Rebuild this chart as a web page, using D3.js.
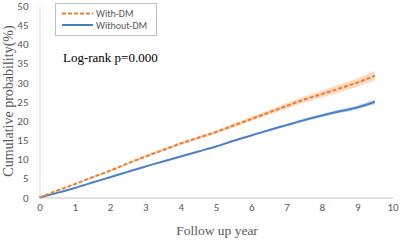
<!DOCTYPE html>
<html><head><meta charset="utf-8">
<script src="https://cdn.jsdelivr.net/npm/d3@7"></script>
<style>body{margin:0;background:#fff}svg{display:block}</style>
</head><body>
<svg id="c" width="400" height="240"></svg>
<script>
const years = [0,0.5,1,1.5,2,2.5,3,3.5,4,4.5,5,5.5,6,6.5,7,7.5,8,8.5,9,9.5];
const withDM = [0,1.8,3.5,5.3,7.0,8.9,10.7,12.4,14.1,15.6,17.1,18.8,20.5,22.2,23.9,25.6,27.0,28.5,30.0,31.8];
const withDMLo = [0,1.7,3.4,5.1,6.8,8.7,10.4,12.1,13.8,15.2,16.7,18.3,19.9,21.6,23.2,24.8,26.1,27.5,28.9,30.6];
const withDMHi = [0,1.9,3.6,5.5,7.2,9.1,11.0,12.7,14.4,16.0,17.5,19.3,21.1,22.8,24.6,26.4,27.9,29.5,31.1,33.0];
const withoutDM = [0,1.2,2.5,3.9,5.3,6.7,8.1,9.4,10.7,12.0,13.3,14.8,16.2,17.6,18.9,20.2,21.4,22.5,23.5,25.0];
const withoutDMLo = [0,1.15,2.45,3.85,5.2,6.6,8.0,9.3,10.6,11.9,13.1,14.6,16.0,17.3,18.6,19.8,21.0,22.0,23.0,24.3];
const withoutDMHi = [0,1.25,2.55,3.95,5.4,6.8,8.2,9.5,10.8,12.1,13.5,15.0,16.4,17.9,19.2,20.6,21.8,23.0,24.0,25.7];
const xTicks = [0,1,2,3,4,5,6,7,8,9,10];
const yTicks = [0,5,10,15,20,25,30,35,40,45,50];
const seriesNames = ["With-DM","Without-DM"];

const svg = d3.select("#c");
const x = d3.scaleLinear().domain([0,10]).range([39.5,392.5]);
const y = d3.scaleLinear().domain([0,50]).range([197.5,6]);

const gray = "#595959";
const sans = "Carlito, 'Liberation Sans', sans-serif";
// axes
const xa = svg.append("g").attr("transform","translate(0,197.5)")
  .call(d3.axisBottom(x).tickValues(xTicks).tickSize(0).tickPadding(6).tickFormat(d3.format("d")));
xa.select(".domain").attr("stroke","#d9d9d9").attr("stroke-width",1.5);
xa.selectAll("text").attr("fill",gray).style("font-family",sans).style("font-size","11px");
const ya = svg.append("g").attr("transform","translate(39.5,0)")
  .call(d3.axisLeft(y).tickValues(yTicks).tickSize(0).tickPadding(11).tickFormat(d3.format("d")));
ya.select(".domain").attr("stroke","#d9d9d9").attr("stroke-width",1);
ya.selectAll("text").attr("fill",gray).style("font-family",sans).style("font-size","11px");

// bands
const area = (lo,hi) => d3.area().x((d,i)=>x(years[i])).y0((d,i)=>y(lo[i])).y1((d,i)=>y(hi[i])).curve(d3.curveMonotoneX)(years);
svg.append("path").attr("d",area(withDMLo,withDMHi)).attr("fill","#f9cfae").attr("opacity",0.8);
svg.append("path").attr("d",area(withoutDMLo,withoutDMHi)).attr("fill","#b9d3f0").attr("opacity",0.8);

const line = vals => d3.line().x((d,i)=>x(years[i])).y((d,i)=>y(vals[i])).curve(d3.curveMonotoneX)(years);
svg.append("path").attr("d",line(withoutDM)).attr("fill","none").attr("stroke","#4a7fc6").attr("stroke-width",2);
svg.append("path").attr("d",line(withDM)).attr("fill","none").attr("stroke","#ed7d31").attr("stroke-width",2).attr("stroke-dasharray","4,2");

// legend
svg.append("rect").attr("x",55.5).attr("y",3.5).attr("width",101).attr("height",32).attr("fill","#fff").attr("stroke","#bfbfbf").attr("stroke-width",1);
const lg = [{n:seriesNames[0],c:"#ed7d31",dash:"4,2",yy:13.5},{n:seriesNames[1],c:"#4a7fc6",dash:null,yy:25}];
lg.forEach(l=>{
  svg.append("line").attr("x1",62).attr("x2",93).attr("y1",l.yy).attr("y2",l.yy).attr("stroke",l.c).attr("stroke-width",2).attr("stroke-dasharray",l.dash);
  svg.append("text").attr("x",96).attr("y",l.yy+3.5).text(l.n).attr("fill",gray).style("font-family",sans).style("font-size","10px");
});

svg.append("text").attr("x",63).attr("y",62).text("Log-rank p=0.000").attr("fill","#000")
  .style("font-family","'Liberation Serif', serif").style("font-size","13px");

svg.append("text").attr("transform","translate(13,101) rotate(-90)").attr("text-anchor","middle")
  .text("Cumulative probability(%)").attr("fill",gray).style("font-family","'Liberation Serif', serif").style("font-size","14px");
svg.append("text").attr("x",217).attr("y",235).attr("text-anchor","middle")
  .text("Follow up year").attr("fill",gray).style("font-family","'Liberation Serif', serif").style("font-size","13.5px");
</script>
</body></html>
